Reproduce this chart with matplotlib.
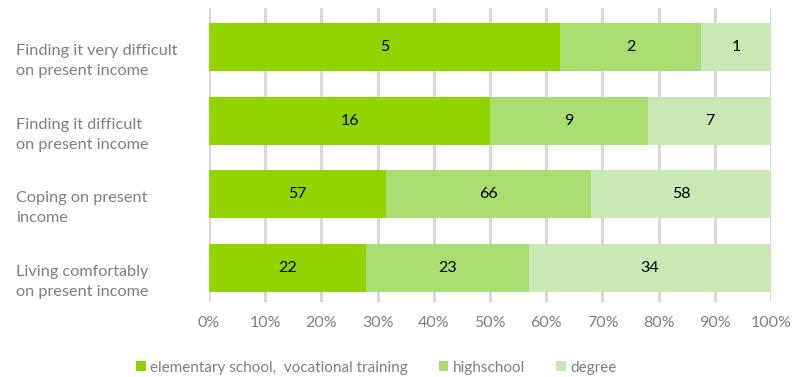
import matplotlib.pyplot as plt
import matplotlib.transforms as mtransforms
import numpy as np

categories = ["Finding it very difficult\non present income",
              "Finding it difficult\non present income",
              "Coping on present\nincome",
              "Living comfortably\non present income"]
series = ["elementary school,  vocational training", "highschool", "degree"]
elementary = [5, 16, 57, 22]
highschool = [2, 9, 66, 23]
degree = [1, 7, 58, 34]
colors = ["#92d400", "#a9dd6f", "#cae8b3"]

plt.rcParams['font.family'] = ['Lato', 'DejaVu Sans']

data = np.array([elementary, highschool, degree], dtype=float)
totals = data.sum(axis=0)
shares = data / totals * 100

fig = plt.figure(figsize=(7.92, 3.77), dpi=100)
ax = fig.add_axes([0.2639, 0.199, 0.7096, 0.7798])

y = np.arange(len(categories))
left = np.zeros(len(categories))
for i, name in enumerate(series):
    ax.barh(y, shares[i], left=left, height=0.65, color=colors[i], label=name, zorder=3)
    for j in range(len(categories)):
        ax.text(left[j] + shares[i][j] / 2, y[j], str(int(data[i][j])),
                ha="center", va="center", fontsize=11.5, color="black", zorder=4)
    left += shares[i]

ax.set_xlim(0, 100)
ax.set_ylim(3.46, -0.53)
ax.set_yticks(y)
ax.set_yticklabels(categories, ha="left", fontsize=11.7, color="#7f7f7f", linespacing=1.55)
ax.tick_params(axis="y", length=0, pad=139)
# labels sit a little below the bar centres in the original
shift = mtransforms.ScaledTranslation(0, -0.095, fig.dpi_scale_trans)
for lab in ax.get_yticklabels():
    lab.set_transform(lab.get_transform() + shift)
ax.set_xticks(np.arange(0, 101, 10))
ax.set_xticklabels([f"{v}%" for v in range(0, 101, 10)], fontsize=11.5, color="#7f7f7f")
ax.tick_params(axis="x", length=0, pad=10)
ax.grid(axis="x", color="#d9d9d9", linewidth=2.2, zorder=0)
for s in ax.spines.values():
    s.set_visible(False)

leg = fig.legend(loc="lower center", bbox_to_anchor=(0.475, -0.03), ncol=3, frameon=False,
                 fontsize=11, handlelength=0.65, handleheight=0.65, handletextpad=0.3,
                 columnspacing=2.0)
for t in leg.get_texts():
    t.set_color("#7f7f7f")

fig.savefig("out.png", dpi=100)
